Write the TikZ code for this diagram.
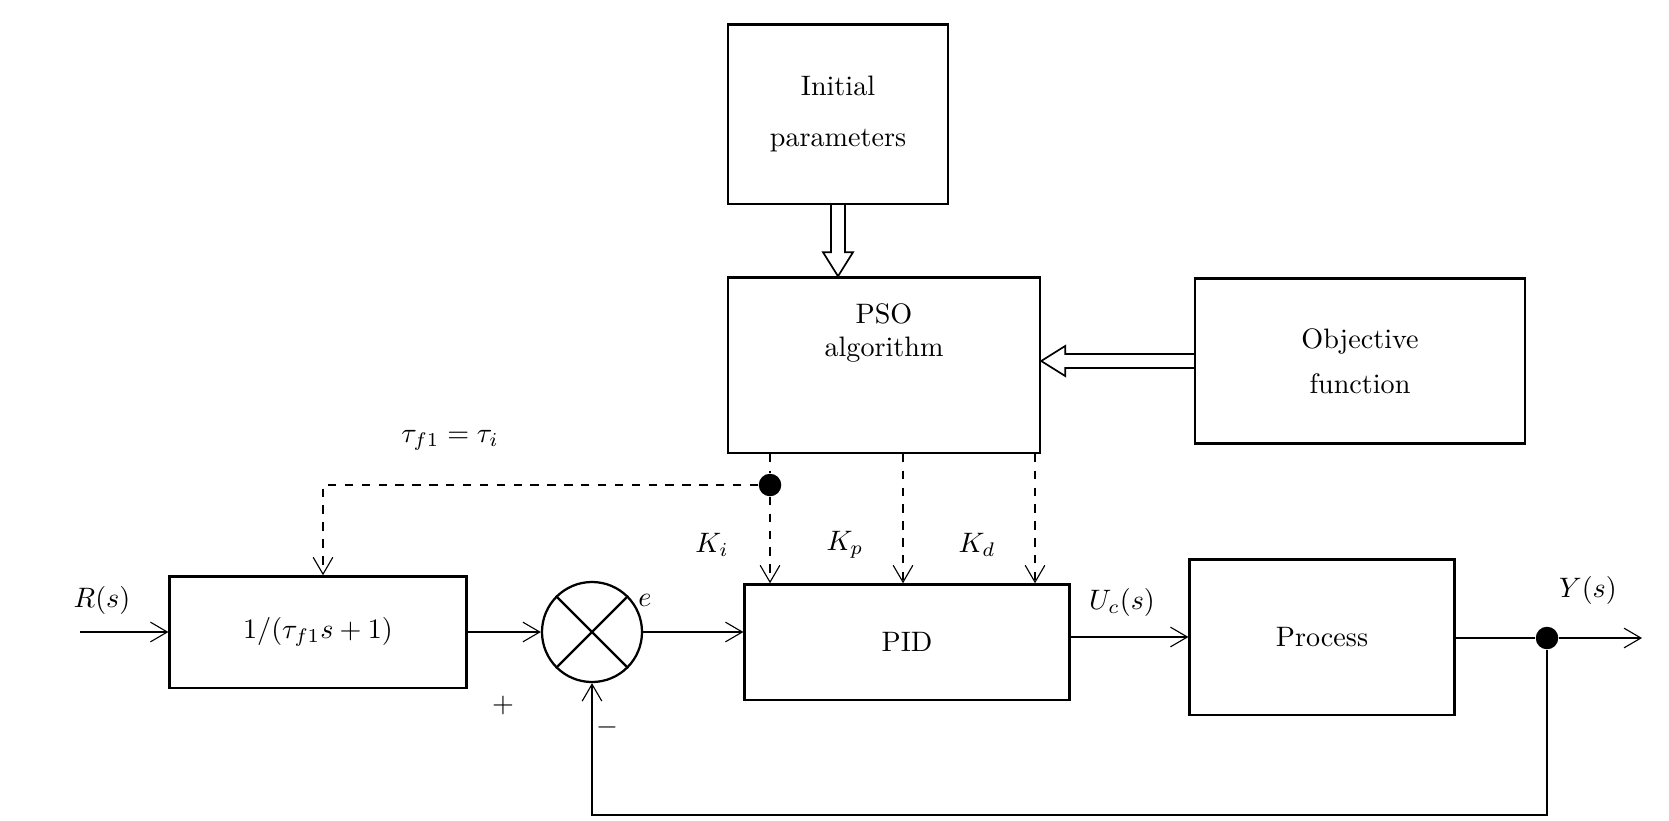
\documentclass[tikz,border=0pt]{standalone}
\usetikzlibrary{arrows.meta,calc}
\begin{document}
\begin{tikzpicture}[x=0.0125cm,y=-0.0125cm,
	sig/.style={->, >={Straight Barb[length=6pt,width=7pt]}},
	ctl/.style={->, dashed, >={Straight Barb[length=6pt,width=7pt]}}]
	\useasboundingbox (0,0) rectangle (1669,820);
	\node[draw, thick, minimum width=2.75cm, minimum height=2.24cm, align=center] (init) at (838,114) {Initial\\[6pt]parameters};
	\node[draw, thick, minimum width=3.9cm, minimum height=2.19cm] (pso) at (884,365) {};
	\node[align=center] at (884,333) {PSO\\algorithm};
	\node[draw, thick, minimum width=4.12cm, minimum height=2.06cm, align=center] (obj) at (1360,361) {Objective\\[4pt]function};
	\node[draw, thick, minimum width=3.71cm, minimum height=1.39cm] (flt) at (318,632) {$1/(\tau_{f1}s+1)$};
	\node[draw, thick, circle, minimum size=1.25cm] (sum) at (592,632) {};
	\draw[thick] (sum.45) -- (sum.225) (sum.135) -- (sum.-45);
	\node[draw, thick, minimum width=4.06cm, minimum height=1.44cm] (pid) at (907,642) {PID};
	\node[draw, thick, minimum width=3.31cm, minimum height=1.94cm] (proc) at (1322,637) {Process};
	\node[circle, fill, inner sep=0pt, minimum size=8pt] (jy) at (1547,638) {};
	\node[circle, fill, inner sep=0pt, minimum size=8pt] (jk) at (770,485) {};
	\coordinate (rin) at (80,632);
	\coordinate (yout) at (1642,638);
	\coordinate (fbl) at (1547,815);
	\coordinate (fbr) at (592,815);
	\coordinate (tau) at (323,485);
	% main loop
	\draw[sig] (rin) -- (flt);
	\draw[sig] (flt) -- (sum);
	\draw[sig] (sum) -- (pid.west |- sum);
	\draw[sig] (pid.east |- proc) -- (proc);
	\draw (proc.east |- jy) -- (jy);
	\draw[sig] (jy) -- (yout);
	\draw[sig] (jy) -- (fbl) -- (fbr) -- (sum);
	% hollow arrows
	\coordinate (a1) at (init.south);
	\coordinate (a2) at (pso.north -| init);
	\draw[semithick] ($(a1)+(-7,0)$) -- ($(a2)+(-7,-24)$) -- ($(a2)+(-15,-24)$) -- (a2)
		-- ($(a2)+(15,-24)$) -- ($(a2)+(7,-24)$) -- ($(a1)+(7,0)$);
	\coordinate (b1) at (obj.west);
	\coordinate (b2) at (pso.east |- obj);
	\draw[semithick] ($(b1)+(0,-7)$) -- ($(b2)+(24,-7)$) -- ($(b2)+(24,-15)$) -- (b2)
		-- ($(b2)+(24,15)$) -- ($(b2)+(24,7)$) -- ($(b1)+(0,7)$);
	% tuning
	\draw[dashed] (pso.south -| jk) -- (jk);
	\draw[ctl] (jk) -- (pid.north -| jk);
	\draw[ctl] (jk) -- (tau) -- (flt.north -| tau);
	\draw[ctl] (pso.south -| 903,0) -- (pid.north -| 903,0);
	\draw[ctl] (pso.south -| 1035,0) -- (pid.north -| 1035,0);
	% labels
	\node at (450,440) {$\tau_{f1}=\tau_i$};
	\node at (712,545) {$K_i$};
	\node at (845,545) {$K_p$};
	\node at (977,545) {$K_d$};
	\node at (645,600) {$e$};
	\node at (503,705) {$+$};
	\node at (607,727) {$-$};
	\node at (1122,602) {$U_c(s)$};
	\node at (1588,590) {$Y(s)$};
	\node at (102,600) {$R(s)$};
\end{tikzpicture}
\end{document}
